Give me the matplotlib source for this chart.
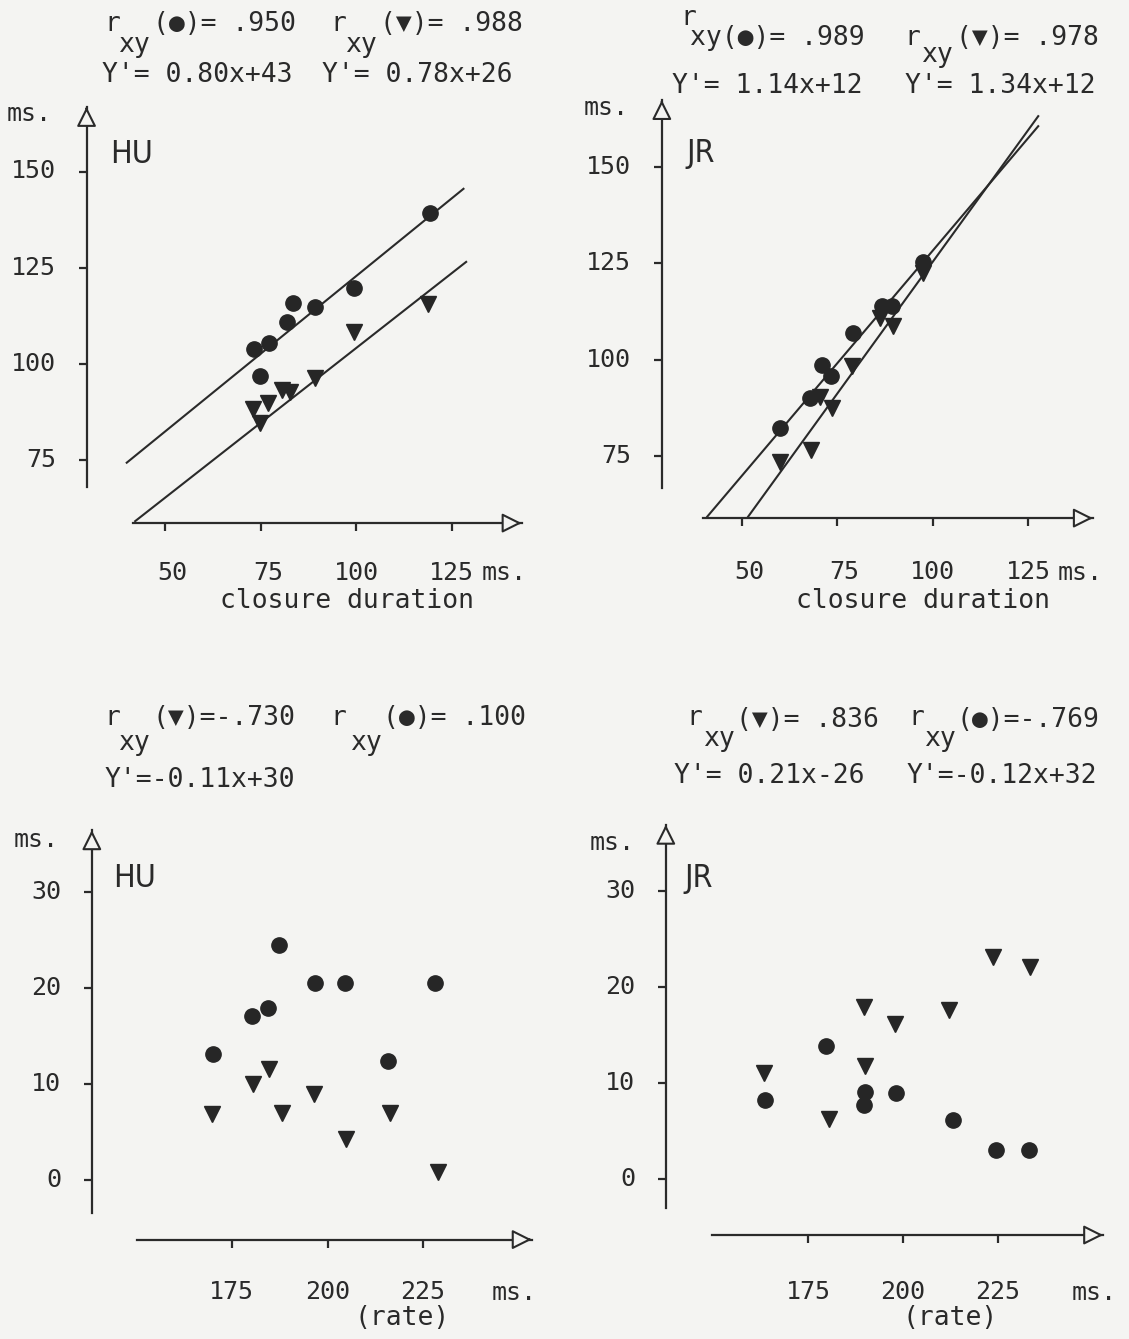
import matplotlib
matplotlib.use("Agg")
import matplotlib.pyplot as plt

W, H = 1129, 1339
BG = "#f4f4f2"
INK = "#2a2a2a"
MONO = ["DejaVu Sans Mono"]
NARROW = ["Liberation Sans Narrow", "DejaVu Sans"]

# --- data ---------------------------------------------------------------
# HU, closure duration (top left)
hu_cd_circ_x = [119.2, 99.4, 83.4, 89.2, 82.0, 77.3, 73.3, 74.8]
hu_cd_circ_y = [139.1, 119.6, 115.7, 114.7, 111.0, 105.3, 103.8, 96.9]
hu_cd_tri_x = [118.8, 99.4, 89.2, 80.5, 82.7, 77.0, 73.1, 74.8]
hu_cd_tri_y = [115.5, 108.4, 96.3, 93.3, 92.8, 89.9, 88.2, 84.7]
hu_cd_fit_circ = ([40.0, 128.0], [74.3, 145.5])
hu_cd_fit_tri = ([42.2, 128.7], [59.1, 126.5])

# JR, closure duration (top right)
jr_cd_circ_x = [97.5, 86.6, 89.3, 79.2, 70.9, 73.3, 67.9, 60.0]
jr_cd_circ_y = [125.4, 113.8, 113.8, 107.0, 98.7, 95.7, 90.0, 82.2]
jr_cd_tri_x = [97.5, 86.2, 89.5, 78.8, 70.4, 73.6, 68.1, 60.0]
jr_cd_tri_y = [122.4, 110.8, 108.6, 98.3, 90.4, 87.4, 76.6, 73.5]
jr_cd_fit_circ = ([41.0, 127.6], [59.3, 160.5])
jr_cd_fit_tri = ([51.7, 127.6], [59.3, 163.1])

# HU, rate (bottom left)
hu_rt_circ_x = [187.4, 196.7, 204.6, 228.1, 184.4, 180.4, 170.0, 215.9]
hu_rt_circ_y = [24.5, 20.5, 20.5, 20.5, 17.9, 17.1, 13.1, 12.4]
hu_rt_tri_x = [184.7, 180.6, 196.6, 169.9, 188.1, 216.3, 204.8, 228.8]
hu_rt_tri_y = [11.6, 10.0, 9.0, 6.9, 7.0, 7.0, 4.3, 0.8]

# JR, rate (bottom right)
jr_rt_circ_x = [179.7, 163.6, 189.9, 189.7, 198.0, 213.0, 224.4, 233.1]
jr_rt_circ_y = [13.9, 8.2, 9.1, 7.7, 9.0, 6.2, 3.1, 3.0]
jr_rt_tri_x = [223.5, 233.3, 189.7, 212.1, 197.8, 189.9, 163.3, 180.4]
jr_rt_tri_y = [23.1, 22.1, 17.9, 17.6, 16.2, 11.8, 11.1, 6.25]

cd_ticks = [50, 75, 100, 125]
cd_yticks = [75, 100, 125, 150]
rt_ticks = [175, 200, 225]
rt_yticks = [0, 10, 20, 30]

fig = plt.figure(figsize=(W / 100, H / 100), dpi=100, facecolor=BG)


def ftext(x, y, s, size=19, family=MONO, **kw):
    fig.text(x / W, 1 - y / H, s, fontsize=size, family=family,
             color=INK, va="baseline", **kw)


def panel(xcal, ycal, xlim, ylim, xaxis, yaxis, xticks, yticks, xpad):
    (px0, v0), (px1, v1) = xcal
    (py0, w0), (py1, w1) = ycal
    sx = (px1 - px0) / (v1 - v0)
    sy = (py1 - py0) / (w1 - w0)
    left = px0 + (xlim[0] - v0) * sx
    right = px0 + (xlim[1] - v0) * sx
    top = py0 + (ylim[1] - w0) * sy
    bottom = py0 + (ylim[0] - w0) * sy
    ax = fig.add_axes([left / W, 1 - bottom / H, (right - left) / W, (bottom - top) / H])
    ax.set_xlim(xlim)
    ax.set_ylim(ylim)
    ax.patch.set_alpha(0)
    for s in ("top", "right"):
        ax.spines[s].set_visible(False)
    ax.spines["bottom"].set_position(("data", xaxis[0]))
    ax.spines["bottom"].set_bounds(xaxis[1], xaxis[2])
    ax.spines["left"].set_position(("data", yaxis[0]))
    ax.spines["left"].set_bounds(yaxis[1], yaxis[2])
    for s in ("bottom", "left"):
        ax.spines[s].set_linewidth(1.6)
        ax.spines[s].set_color(INK)
    ax.set_xticks(xticks)
    ax.set_yticks(yticks)
    ax.set_xticklabels([])
    ax.set_yticklabels([])
    ax.tick_params(direction="out", length=6, width=1.6, colors=INK)

    head = dict(arrowstyle="-|>,head_length=0.6,head_width=0.3", mutation_scale=20,
                fc=BG, ec=INK, lw=1.5, shrinkA=0, shrinkB=0)
    ax.annotate("", xy=(xaxis[2], xaxis[0]), xytext=(xaxis[2] - 1, xaxis[0]),
                arrowprops=head, annotation_clip=False)
    ax.annotate("", xy=(yaxis[0], yaxis[2]), xytext=(yaxis[0], yaxis[2] - 0.5),
                arrowprops=head, annotation_clip=False)

    for v in xticks:
        ax.annotate(str(v), xy=(v, xaxis[0]), xytext=(16, -xpad), textcoords="offset points",
                    ha="right", va="baseline", fontsize=18, family=MONO, color=INK)
    for v in yticks:
        ax.annotate(str(v), xy=(yaxis[0], v), xytext=(-22, 0), textcoords="offset points",
                    ha="right", va="center", fontsize=18, family=MONO, color=INK)
    return ax


def marks(ax, cx, cy, tx, ty):
    ax.plot(cx, cy, "o", ms=11, color="#262626", mec="#262626", clip_on=False, zorder=4)
    ax.plot(tx, ty, "v", ms=12, color="#262626", mec="#262626", clip_on=False, zorder=4)


def fit(ax, line):
    ax.plot(line[0], line[1], color=INK, lw=1.5, clip_on=False, zorder=3)


# top left: HU closure duration
ax1 = panel([(165, 50), (452, 125)], [(171.5, 150), (460, 75)], (25, 150), (55, 170),
            (58.6, 41.6, 143.2), (29.5, 68.0, 166.8), cd_ticks, cd_yticks, 41)
fit(ax1, hu_cd_fit_circ)
fit(ax1, hu_cd_fit_tri)
marks(ax1, hu_cd_circ_x, hu_cd_circ_y, hu_cd_tri_x, hu_cd_tri_y)

# top right: JR closure duration
ax2 = panel([(741.7, 50), (1028.3, 125)], [(166.7, 150), (456, 75)], (25, 150), (55, 170),
            (58.9, 40.0, 141.9), (29.1, 66.7, 167.3), cd_ticks, cd_yticks, 44)
fit(ax2, jr_cd_fit_circ)
fit(ax2, jr_cd_fit_tri)
marks(ax2, jr_cd_circ_x, jr_cd_circ_y, jr_cd_tri_x, jr_cd_tri_y)

# bottom left: HU rate
ax3 = panel([(231.7, 175), (423.3, 225)], [(891.7, 30), (1180, 0)], (135, 260), (-8, 38),
            (-6.2, 150.2, 253.3), (138.5, -3.4, 36.4), rt_ticks, rt_yticks, 43)
marks(ax3, hu_rt_circ_x, hu_rt_circ_y, hu_rt_tri_x, hu_rt_tri_y)

# bottom right: JR rate
ax4 = panel([(808.3, 175), (998.3, 225)], [(891, 30), (1179.3, 0)], (135, 260), (-8, 38),
            (-5.8, 149.6, 252.6), (137.5, -3.0, 36.9), rt_ticks, rt_yticks, 46)
marks(ax4, jr_rt_circ_x, jr_rt_circ_y, jr_rt_tri_x, jr_rt_tri_y)

# headers (r with subscript xy, regression equations)
headers = [
    ("r", 104, 31), ("xy", 118, 52), ("(●)= .950", 153, 31),
    ("r", 330, 31), ("xy", 345, 52), ("(▼)= .988", 380, 31),
    ("Y'= 0.80x+43", 102, 82), ("Y'= 0.78x+26", 322, 82),
    ("r", 680, 25), ("xy(●)= .989", 690, 45),
    ("r", 904, 45), ("xy", 921, 62), ("(▼)= .978", 956, 45),
    ("Y'= 1.14x+12", 672, 93), ("Y'= 1.34x+12", 905, 93),
    ("r", 104, 725), ("xy", 118, 750), ("(▼)=-.730", 153, 725),
    ("r", 330, 725), ("xy", 350, 750), ("(●)= .100", 383, 725),
    ("Y'=-0.11x+30", 105, 787),
    ("r", 686, 725), ("xy", 703, 746), ("(▼)= .836", 736, 727),
    ("r", 908, 725), ("xy", 924, 746), ("(●)=-.769", 957, 727),
    ("Y'= 0.21x-26", 674, 783), ("Y'=-0.12x+32", 907, 783),
]
for s, x, y in headers:
    ftext(x, y, s)

# axis unit labels and titles
for x, y in [(7, 121), (584, 115), (14, 847), (590, 850)]:
    ftext(x, y, "ms.", size=18)
for x, y in [(482, 580), (1058, 580), (492, 1300), (1072, 1300)]:
    ftext(x, y, "ms.", size=18)
ftext(220, 608, "closure duration")
ftext(796, 608, "closure duration")
ftext(355, 1325, "(rate)")
ftext(903, 1325, "(rate)")

for s, x, y in [("HU", 110, 163), ("JR", 686, 162), ("HU", 113, 887), ("JR", 684, 887)]:
    ftext(x, y, s, size=23, family=NARROW, fontstretch="condensed")

fig.savefig("out.png", dpi=100, facecolor=BG)
